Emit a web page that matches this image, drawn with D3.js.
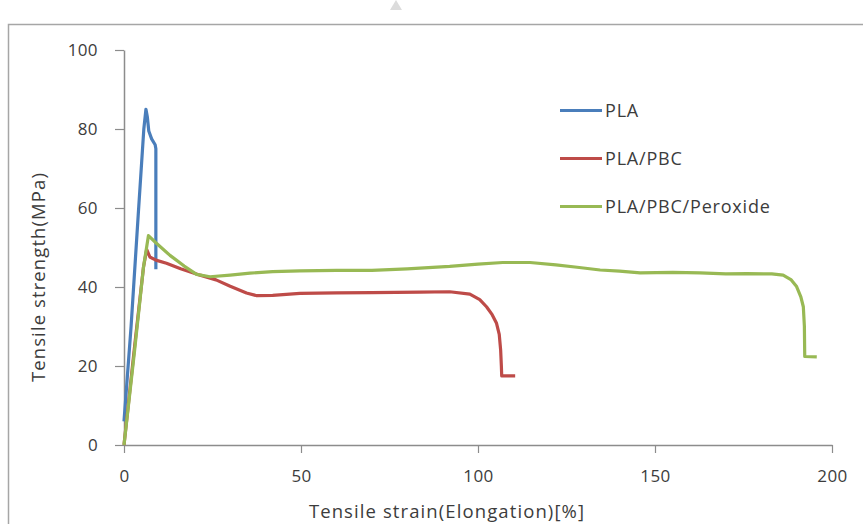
<!DOCTYPE html>
<html><head><meta charset="utf-8">
<script src="https://cdn.jsdelivr.net/npm/d3@7"></script>
<style>
html,body{margin:0;padding:0;background:#fff;}
svg{display:block;}
text{font-family:"Open Sans","Noto Sans",sans-serif;fill:#3c3c3c;}
</style></head><body>
<svg id="chart" width="863" height="524"></svg>
<script>
const seriesNames = ["PLA", "PLA/PBC", "PLA/PBC/Peroxide"];
const seriesColors = ["#4a7ebb", "#be4b48", "#98b954"];
const xTicks = [0, 50, 100, 150, 200];
const yTicks = [0, 20, 40, 60, 80, 100];

// [strain %, stress MPa]
const pla = [[0,6],[2,30],[4,58],[5.6,80],[6.2,85],[6.6,83],[7.0,79.5],[7.8,77.5],[8.8,76],[9.0,75],[9.0,60],[9.0,44.5]];
const plaPbc = [[0,0],[3,25],[5.5,45],[6.4,49.5],[7.3,47.6],[9,46.8],[12,46],[16,44.6],[21.5,43],[26,41.8],[30,40.2],[34.6,38.5],[37.5,37.8],[42,37.9],[49.7,38.4],[60,38.5],[70,38.6],[83.6,38.7],[92,38.8],[97.7,38.2],[100.5,36.8],[102.4,35],[104,33],[105.2,30.9],[106,28],[106.4,24],[106.6,20],[106.7,17.5],[110.5,17.5]];
const plaPbcPer = [[0,0],[3,24],[5.5,45],[6.9,53],[9,51.2],[13,48],[17,45.3],[20.5,43.2],[24.3,42.6],[30,43],[35.6,43.5],[42,43.9],[49.7,44.1],[60,44.2],[70,44.2],[80,44.6],[92,45.2],[100,45.8],[107,46.2],[114.7,46.2],[122,45.6],[128,45],[134.5,44.3],[140,44],[145.8,43.6],[155,43.7],[162.7,43.6],[170,43.3],[176,43.4],[183,43.3],[186.2,43],[188.5,41.8],[190,40.1],[191.2,37.5],[191.9,35],[192.2,30],[192.3,22.4],[195.7,22.3]];
const seriesData = [pla, plaPbc, plaPbcPer];

const svg = d3.select("#chart");
const axisColor = "#8c8c8c";
const fontSize = 17;

// outer frame
svg.append("path").attr("d","M8.5,900 V24.5 H900").attr("fill","none").attr("stroke","#a6a6a6").attr("stroke-width",1.5);
// faint watermark mark at top
svg.append("path").attr("d","M390,10 L396,0 L402,10 Z").attr("fill","#dcdcdc");

const x = d3.scaleLinear().domain([0,200]).range([124,832]);
const y = d3.scaleLinear().domain([0,100]).range([445,50]);

// y axis
const gy = svg.append("g").attr("transform","translate(124,0)")
  .call(d3.axisLeft(y).tickValues(yTicks).tickSize(9).tickPadding(17).tickSizeOuter(0));
// x axis
const gx = svg.append("g").attr("transform","translate(0,445)")
  .call(d3.axisBottom(x).tickValues(xTicks).tickSize(8).tickPadding(19).tickSizeOuter(0));
[gx, gy].forEach(g => {
  g.selectAll("path.domain").attr("stroke", axisColor).attr("stroke-width", 1.5);
  g.selectAll(".tick line").attr("stroke", axisColor).attr("stroke-width", 1.2);
  g.selectAll(".tick text").attr("font-size", fontSize).attr("fill", "#3c3c3c")
    .attr("letter-spacing", 0.4)
    .attr("font-family", '"Open Sans","Noto Sans",sans-serif');
});
gy.selectAll(".tick text").attr("dy","0.35em");
gx.selectAll(".tick text").attr("dy","0.6em");

const line = d3.line().x(d => x(d[0])).y(d => y(d[1])).curve(d3.curveLinear);
seriesData.forEach((s, i) => {
  svg.append("path").datum(s).attr("d", line)
    .attr("fill","none").attr("stroke", seriesColors[i]).attr("stroke-width", 3.2)
    .attr("stroke-linejoin","round").attr("stroke-linecap","butt");
});

// legend
const lg = svg.append("g");
seriesNames.forEach((n, i) => {
  const yy = 110.5 + i * 48;
  lg.append("line").attr("x1",560).attr("x2",602).attr("y1",yy).attr("y2",yy)
    .attr("stroke", seriesColors[i]).attr("stroke-width",3.2);
  lg.append("text").attr("x",605).attr("y",yy).attr("dy","0.35em").attr("font-size",18)
    .attr("letter-spacing",0.8).text(n);
});

// axis titles
svg.append("text").attr("x",447).attr("y",518).attr("text-anchor","middle").attr("font-size",18.5)
  .attr("letter-spacing",1.1).text("Tensile strain(Elongation)[%]");
svg.append("text").attr("transform","translate(45,277) rotate(-90)").attr("text-anchor","middle").attr("font-size",18.5)
  .attr("letter-spacing",1.1).text("Tensile strength(MPa)");
</script>
</body></html>
